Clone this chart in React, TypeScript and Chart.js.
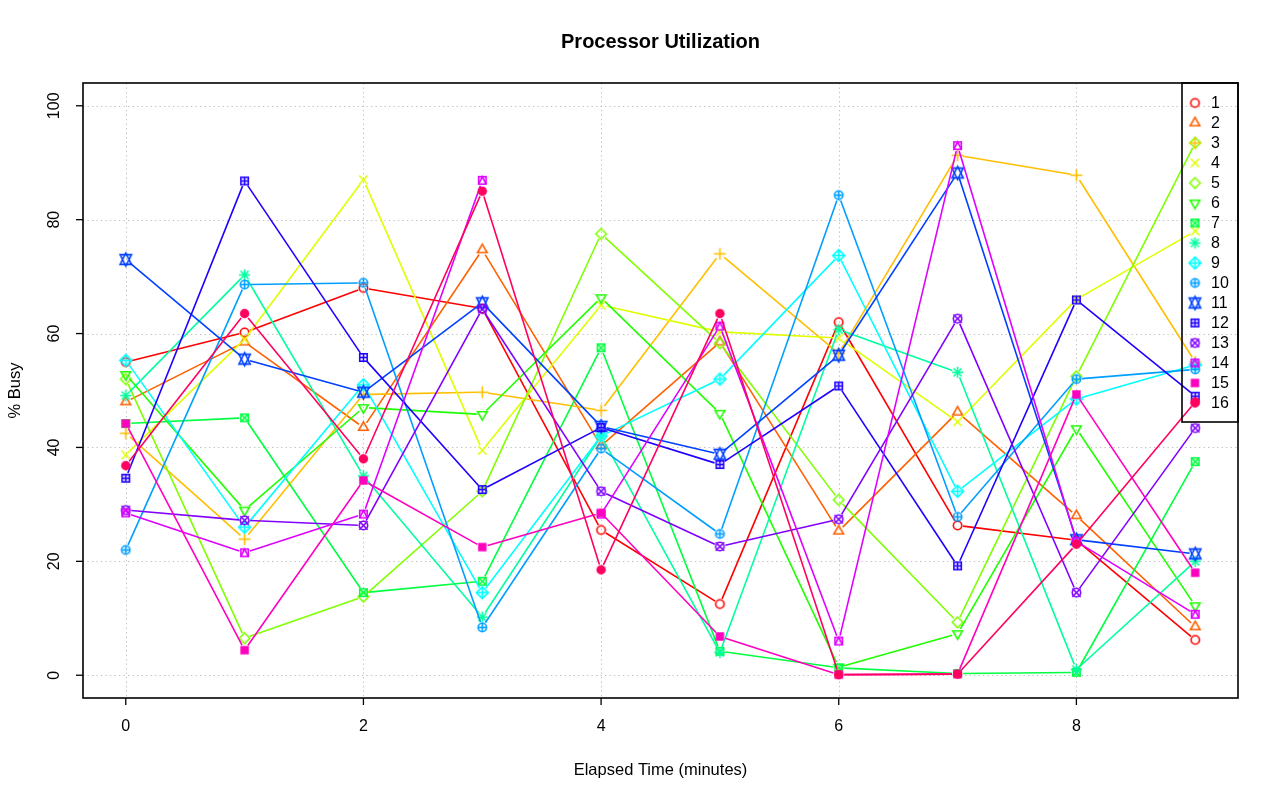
import React, { useEffect, useRef } from "react";
import { Chart, registerables } from "chart.js";

Chart.register(...registerables);

// ---- data ----
const minutes = [0, 1, 2, 3, 4, 5, 6, 7, 8, 9];
const cpu1 = [55.0, 60.2, 68.0, 64.4, 25.5, 12.5, 62.0, 26.3, 23.7, 6.2];
const cpu2 = [48.0, 58.5, 43.5, 74.7, 40.3, 58.5, 25.3, 46.2, 28.0, 8.5];
const cpu3 = [42.5, 23.9, 49.3, 49.7, 46.5, 74.0, 56.5, 91.3, 87.8, 55.0];
const cpu4 = [38.7, 59.0, 87.0, 39.5, 65.0, 60.3, 59.2, 44.5, 66.0, 78.0];
const cpu5 = [52.0, 6.5, 13.8, 32.3, 77.5, 58.3, 30.8, 9.3, 52.5, 93.5];
const cpu6 = [52.8, 29.0, 47.0, 45.8, 66.3, 46.0, 1.4, 7.3, 43.3, 12.2];
const cpu7 = [44.2, 45.2, 14.5, 16.5, 57.5, 4.2, 1.3, 0.3, 0.5, 37.5];
const cpu8 = [49.1, 70.3, 35.0, 10.2, 42.0, 4.0, 60.7, 53.2, 1.0, 20.0];
const cpu9 = [55.3, 26.0, 51.0, 14.5, 42.0, 52.0, 73.7, 32.3, 48.5, 54.5];
const cpu10 = [22.0, 68.6, 68.9, 8.4, 39.8, 24.8, 84.3, 27.8, 52.0, 53.7];
const cpu11 = [73.0, 55.5, 49.7, 65.4, 43.7, 38.8, 56.2, 88.2, 23.8, 21.3];
const cpu12 = [34.6, 86.8, 55.8, 32.6, 43.5, 37.0, 50.8, 19.2, 65.9, 49.0];
const cpu13 = [29.0, 27.2, 26.3, 64.3, 32.3, 22.6, 27.4, 62.6, 14.5, 43.4];
const cpu14 = [28.5, 21.5, 28.3, 86.9, 28.3, 61.3, 6.0, 93.0, 23.5, 10.7];
const cpu15 = [44.2, 4.4, 34.2, 22.5, 28.5, 6.8, 0.1, 0.2, 49.3, 18.0];
const cpu16 = [36.8, 63.5, 38.0, 85.0, 18.5, 63.5, 0.1, 0.2, 23.0, 48.0];

const seriesValues = [cpu1, cpu2, cpu3, cpu4, cpu5, cpu6, cpu7, cpu8, cpu9, cpu10, cpu11, cpu12, cpu13, cpu14, cpu15, cpu16];
const seriesLabels = ["1", "2", "3", "4", "5", "6", "7", "8", "9", "10", "11", "12", "13", "14", "15", "16"];
const seriesColors = [
  "#FF0000", "#FF6000", "#FFBF00", "#DFFF00", "#80FF00", "#20FF00", "#00FF40", "#00FF9F",
  "#00FFFF", "#009FFF", "#0040FF", "#2000FF", "#8000FF", "#DF00FF", "#FF00BF", "#FF0060",
];
const xTicks = [0, 2, 4, 6, 8];
const yTicks = [0, 20, 40, 60, 80, 100];

const TITLE = "Processor Utilization";
const X_TITLE = "Elapsed Time (minutes)";
const Y_TITLE = "% Busy";

// ---- styling ----
const FONT = "'Liberation Sans', Arial, Helvetica, sans-serif";
const BASE = 4.2; // symbol radius (R: RADIUS * GSTR_0)
const GAP = 5.6; // type="b" gap around points
const LW = 1.6;

function drawPch(g: CanvasRenderingContext2D, pch: number, color: string) {
  const r0 = BASE;
  g.strokeStyle = color;
  g.fillStyle = color;
  g.lineWidth = LW;
  g.lineCap = "butt";
  g.lineJoin = "miter";
  const line = (x1: number, y1: number, x2: number, y2: number) => {
    g.beginPath();
    g.moveTo(x1, y1);
    g.lineTo(x2, y2);
    g.stroke();
  };
  const circle = (rr: number, fill = false) => {
    g.beginPath();
    g.arc(0, 0, rr, 0, Math.PI * 2);
    if (fill) g.fill();
    else g.stroke();
  };
  const square = (h: number) => g.strokeRect(-h, -h, 2 * h, 2 * h);
  const plus = (h: number) => {
    line(-h, 0, h, 0);
    line(0, -h, 0, h);
  };
  const cross = (h: number) => {
    line(-h, -h, h, h);
    line(-h, h, h, -h);
  };
  const diamond = (h: number) => {
    g.beginPath();
    g.moveTo(0, -h);
    g.lineTo(h, 0);
    g.lineTo(0, h);
    g.lineTo(-h, 0);
    g.closePath();
    g.stroke();
  };
  const poly = (pts: number[][]) => {
    g.beginPath();
    g.moveTo(pts[0][0], pts[0][1]);
    for (let i = 1; i < pts.length; i++) g.lineTo(pts[i][0], pts[i][1]);
    g.closePath();
    g.stroke();
  };
  const TRC0 = Math.sqrt((4 * Math.PI) / (3 * Math.sqrt(3)));
  const TRC1 = (TRC0 * Math.sqrt(3)) / 2;
  const TRC2 = TRC0 / 2;
  const SQRC = 0.886226925;
  const DMDC = 1.253314137;
  const tri = (up: boolean) => {
    const s = 0.85;
    const r = TRC0 * r0 * s;
    const yc = TRC2 * r0 * s;
    const xc = TRC1 * r0 * s;
    if (up) poly([[0, -r], [xc, yc], [-xc, yc]]);
    else poly([[0, r], [xc, -yc], [-xc, -yc]]);
  };
  switch (pch) {
    case 1:
      circle(r0);
      break;
    case 2:
      tri(true);
      break;
    case 3:
      plus(Math.SQRT2 * r0);
      break;
    case 4:
      cross(r0);
      break;
    case 5:
      diamond(DMDC * r0);
      break;
    case 6:
      tri(false);
      break;
    case 7:
      square(r0 * SQRC);
      cross(r0 * SQRC);
      break;
    case 8:
      cross(r0 * 0.95);
      plus(Math.SQRT2 * r0 * 0.95);
      break;
    case 9:
      diamond(Math.SQRT2 * r0);
      plus(Math.SQRT2 * r0);
      break;
    case 10:
      circle(r0);
      plus(r0);
      break;
    case 11: {
      const r = TRC0 * r0;
      let yc = TRC2 * r0;
      yc = 0.5 * (yc + r);
      const xc = TRC1 * r0;
      poly([[0, -r], [xc, yc], [-xc, yc]]);
      poly([[0, r], [xc, -yc], [-xc, -yc]]);
      break;
    }
    case 12:
      square(r0 * SQRC);
      plus(r0 * SQRC);
      break;
    case 13:
      circle(r0);
      cross(r0);
      break;
    case 14: {
      const h = r0 * SQRC;
      square(h);
      g.beginPath();
      g.moveTo(-h, h);
      g.lineTo(0, -h);
      g.lineTo(h, h);
      g.stroke();
      break;
    }
    case 15: {
      const h = r0 * SQRC;
      g.fillRect(-h - 0.5, -h - 0.5, 2 * h + 1, 2 * h + 1);
      break;
    }
    case 16:
      circle(r0 + 0.5, true);
      break;
  }
}

function makeGlyph(pch: number, color: string): HTMLCanvasElement {
  const S = 21;
  const c = document.createElement("canvas");
  c.width = S;
  c.height = S;
  const g = c.getContext("2d")!;
  g.translate(S / 2, S / 2);
  drawPch(g, pch, color);
  return c;
}

const rFrame = {
  id: "rFrame",
  beforeDatasetsDraw(chart: any) {
    const { ctx, chartArea: a, scales } = chart;
    const xs = scales.x;
    const ys = scales.y;
    ctx.save();
    ctx.strokeStyle = "#BEBEBE";
    ctx.lineWidth = 1;
    ctx.setLineDash([1.3, 3.2]);
    for (const t of xTicks) {
      const px = Math.round(xs.getPixelForValue(t)) + 0.5;
      ctx.beginPath();
      ctx.moveTo(px, a.top);
      ctx.lineTo(px, a.bottom);
      ctx.stroke();
    }
    for (const t of yTicks) {
      const py = Math.round(ys.getPixelForValue(t)) + 0.5;
      ctx.beginPath();
      ctx.moveTo(a.left, py);
      ctx.lineTo(a.right, py);
      ctx.stroke();
    }
    ctx.restore();
  },
  afterDatasetsDraw(chart: any) {
    const { ctx, chartArea: a, scales } = chart;
    const xs = scales.x;
    const ys = scales.y;
    ctx.save();
    // box
    ctx.strokeStyle = "#000";
    ctx.lineWidth = 1.6;
    ctx.setLineDash([]);
    ctx.strokeRect(a.left, a.top, a.right - a.left, a.bottom - a.top);
    // ticks
    ctx.lineWidth = 1.3;
    ctx.fillStyle = "#000";
    ctx.font = `16px ${FONT}`;
    ctx.textAlign = "center";
    ctx.textBaseline = "middle";
    for (const t of xTicks) {
      const px = xs.getPixelForValue(t);
      ctx.beginPath();
      ctx.moveTo(px, a.bottom);
      ctx.lineTo(px, a.bottom + 7);
      ctx.stroke();
      ctx.fillText(String(t), px, a.bottom + 29);
    }
    for (const t of yTicks) {
      const py = ys.getPixelForValue(t);
      ctx.beginPath();
      ctx.moveTo(a.left, py);
      ctx.lineTo(a.left - 7, py);
      ctx.stroke();
      ctx.save();
      ctx.translate(a.left - 28, py);
      ctx.rotate(-Math.PI / 2);
      ctx.fillText(String(t), 0, 0);
      ctx.restore();
    }
    // axis titles
    const cx = (a.left + a.right) / 2;
    const cy = (a.top + a.bottom) / 2;
    ctx.font = `16.5px ${FONT}`;
    ctx.fillText(X_TITLE, cx, a.bottom + 72);
    ctx.save();
    ctx.translate(15, cy);
    ctx.rotate(-Math.PI / 2);
    ctx.fillText(Y_TITLE, 0, 0);
    ctx.restore();
    // title
    ctx.font = `bold 20px ${FONT}`;
    ctx.fillText(TITLE, cx, 42);
    // legend
    const lw = 56;
    const lh = 339;
    ctx.lineWidth = 1.6;
    ctx.strokeRect(a.right - lw, a.top, lw, lh);
    ctx.font = `16px ${FONT}`;
    ctx.textAlign = "left";
    seriesLabels.forEach((lab, i) => {
      const yy = a.top + 20 + 20 * i;
      const glyph = chart.data.datasets[i].pointStyle as HTMLCanvasElement;
      ctx.drawImage(glyph, a.right - 43 - glyph.width / 2, yy - glyph.height / 2);
      ctx.fillStyle = "#000";
      ctx.fillText(lab, a.right - 27, yy + 1);
    });
    ctx.restore();
  },
};

export default function App() {
  const ref = useRef<HTMLCanvasElement | null>(null);
  useEffect(() => {
    if (!ref.current) return;
    const datasets = seriesValues.map((vals, i) => ({
      label: seriesLabels[i],
      data: minutes.map((m, j) => ({ x: m, y: vals[j] })),
      borderColor: seriesColors[i],
      backgroundColor: seriesColors[i],
      borderWidth: LW,
      pointStyle: makeGlyph(i + 1, seriesColors[i]) as any,
      pointRadius: 5,
      fill: false,
      tension: 0,
      order: 15 - i,
      segment: {
        borderDash: (c: any) => {
          const dx = c.p1.x - c.p0.x;
          const dy = c.p1.y - c.p0.y;
          const L = Math.sqrt(dx * dx + dy * dy);
          if (L <= 2 * GAP) return [0, 100000];
          return [L - 2 * GAP, 100000];
        },
        borderDashOffset: () => -GAP,
      },
    }));
    const chart = new Chart(ref.current, {
      type: "line",
      data: { datasets },
      options: {
        responsive: false,
        animation: false,
        events: [],
        layout: { padding: { left: 83, top: 83, right: 42, bottom: 103 } },
        scales: {
          x: { type: "linear", min: -0.36, max: 9.36, display: false },
          y: { type: "linear", min: -4, max: 104, display: false },
        },
        plugins: {
          legend: { display: false },
          tooltip: { enabled: false },
          title: { display: false },
        },
      },
      plugins: [rFrame],
    } as any);
    return () => chart.destroy();
  }, []);
  return (
    <div style={{ position: "fixed", left: 0, top: 0, width: 1280, height: 801, background: "#fff" }}>
      <canvas ref={ref} width={1280} height={801} style={{ display: "block" }} />
    </div>
  );
}
